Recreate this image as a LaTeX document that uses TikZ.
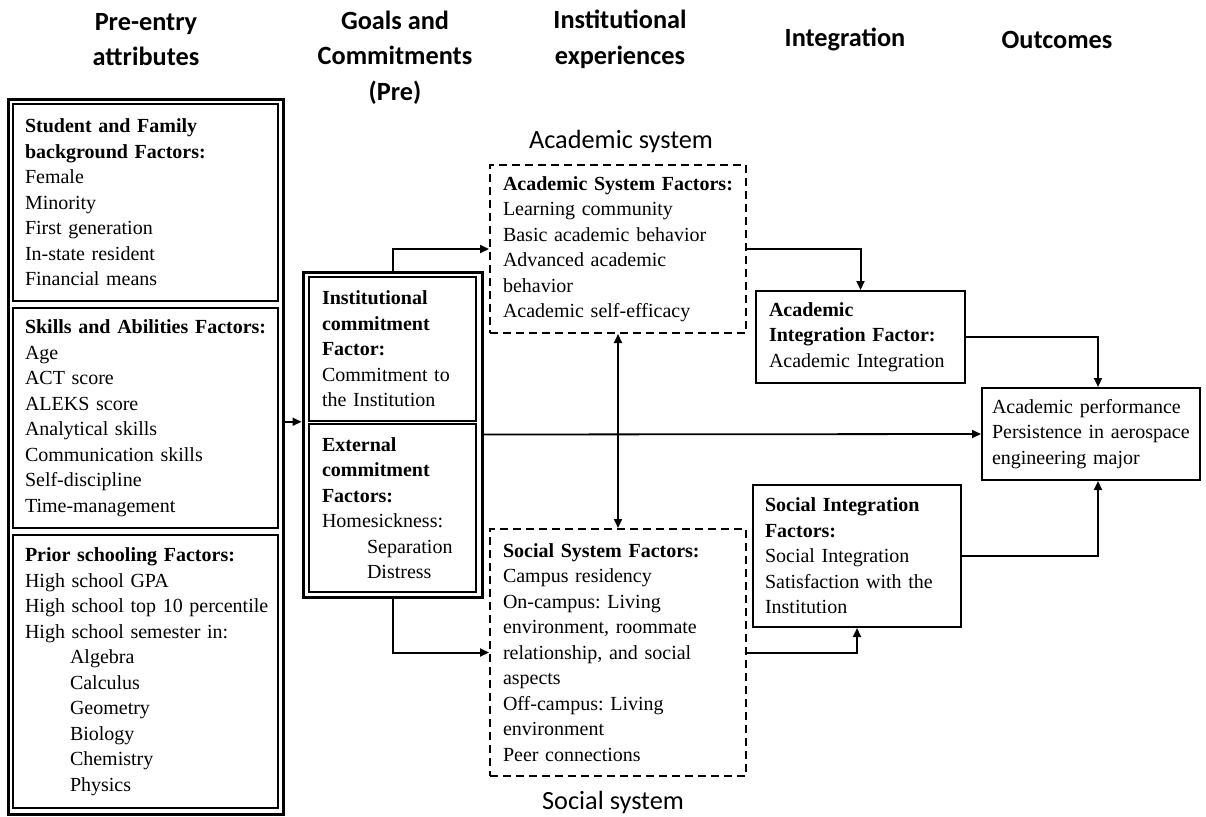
\documentclass[tikz,border=0pt]{standalone}
\usepackage{fontspec}
\setmainfont{Liberation Serif}
\newfontfamily\hdfont{Carlito}
\usetikzlibrary{arrows.meta,positioning}
\frenchspacing
\tikzstyle{head}=[align=center,font=\hdfont\bfseries\fontsize{26.3}{35.5}\selectfont]
\tikzstyle{syslabel}=[font=\hdfont\fontsize{26.3}{35.5}\selectfont]
\tikzstyle{frame}=[draw,line width=3pt,inner sep=0pt]
\tikzstyle{fac}=[draw,line width=1.5pt,align=left,inner sep=0pt,font=\fontsize{20}{25.5}\selectfont]
\tikzstyle{sysbox}=[fac,line width=2pt,dash pattern=on 8pt off 5pt]
\tikzstyle{intbox}=[fac,line width=2pt]
\tikzstyle{arr}=[-{Triangle[length=9pt,width=8pt]},line width=2pt]
\tikzstyle{darr}=[{Triangle[length=9pt,width=8pt]}-{Triangle[length=9pt,width=8pt]},line width=2pt]

\begin{document}
\begin{tikzpicture}[x=1pt,y=-1pt]
\useasboundingbox (0,0) rectangle (1206,816);
\node[head] (hpre) at (146,39.5) {Pre-entry\\attributes};
\node[head] (hgoal) at (395,57.5) {Goals and\\Commitments\\(Pre)};
\node[head] (hexp) at (620,39.5) {Institutional\\experiences};
\node[head] (hint) at (845,39) {Integration};
\node[head] (hout) at (1057,40) {Outcomes};

\node[frame,minimum width=275pt,minimum height=715pt] (pre) at (145.5,456.5) {};
\node[fac,minimum width=265pt,minimum height=197pt,text width=241pt] (family) at (145.5,202.5)
  {\textbf{Student and Family}\\\textbf{background Factors:}\\Female\\Minority\\First generation\\In-state resident\\Financial means};
\node[fac,minimum width=265pt,minimum height=220pt,text width=241pt] (skills) at (145.5,418)
  {\mbox{\textbf{Skills and Abilities Factors:}}\\Age\\ACT score\\ALEKS score\\Analytical skills\\Communication skills\\Self-discipline\\Time-management};
\node[fac,minimum width=265pt,minimum height=273pt,text width=241pt] (school) at (145.5,671.5)
  {\textbf{Prior schooling Factors:}\\High school GPA\\\mbox{High school top 10 percentile}\\High school semester in:\\
   \hspace*{45pt}Algebra\\\hspace*{45pt}Calculus\\\hspace*{45pt}Geometry\\\hspace*{45pt}Biology\\\hspace*{45pt}Chemistry\\\hspace*{45pt}Physics};

\node[frame,minimum width=179pt,minimum height=325pt] (goal) at (392.5,434.5) {};
\node[fac,minimum width=167pt,minimum height=144pt,text width=141pt] (inst) at (392.5,349)
  {\textbf{Institutional}\\\textbf{commitment}\\\textbf{Factor:}\\Commitment to\\the Institution};
\node[fac,minimum width=167pt,minimum height=168pt,text width=141pt] (ext) at (392.5,508)
  {\textbf{External}\\\textbf{commitment}\\\textbf{Factors:}\\Homesickness:\\\hspace*{45pt}Separation\\\hspace*{45pt}Distress};

\node[syslabel] (acadlbl) at (621,141) {Academic system};
\node[sysbox,minimum width=256pt,minimum height=168pt,text width=230pt] (acad) at (618,249)
  {\mbox{\textbf{Academic System Factors:}}\\Learning community\\Basic academic behavior\\Advanced academic\\behavior\\Academic self-efficacy};
\node[sysbox,minimum width=256pt,minimum height=247pt,text width=230pt] (social) at (618,652.5)
  {\textbf{Social System Factors:}\\Campus residency\\On-campus: Living\\environment, roommate\\relationship, and social\\aspects\\Off-campus: Living\\environment\\Peer connections};
\node[syslabel] (soclbl) at (613,802) {Social system};

\node[intbox,minimum width=209pt,minimum height=92pt,text width=183pt] (acadint) at (860.5,337)
  {\textbf{Academic}\\\textbf{Integration Factor:}\\Academic Integration};
\node[intbox,minimum width=208pt,minimum height=142pt,text width=184pt] (socint) at (857,556)
  {\textbf{Social Integration}\\\textbf{Factors:}\\Social Integration\\Satisfaction with the\\Institution};
\node[intbox,minimum width=218pt,minimum height=92pt,text width=198pt] (out) at (1091,434)
  {Academic performance\\\mbox{Persistence in aerospace}\\engineering major};

\draw[arr] (pre.east |- inst.south) -- (goal.west |- inst.south);
\draw[arr] (goal.north) |- (acad.west);
\draw[arr] (goal.south) |- (social.west);
\draw[arr,line width=1.8pt] (goal.east) -- (out.west);
\draw[darr] (acad.south) -- (social.north);
\draw[arr] (acad.east) -| (acadint.north);
\draw[arr] (social.east) -| (socint.south);
\draw[arr] (acadint.east) -| ([xshift=7pt]out.north);
\draw[arr] (socint.east) -| ([xshift=7pt]out.south);
\end{tikzpicture}
\end{document}
